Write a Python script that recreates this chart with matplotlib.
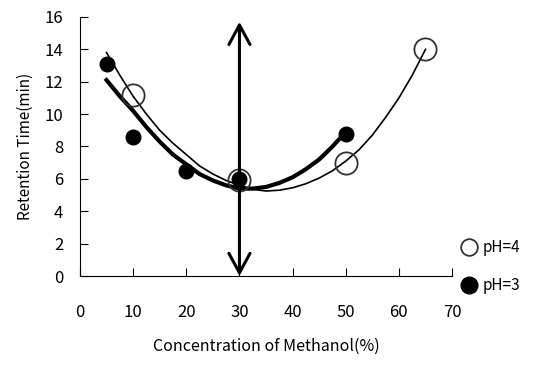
import matplotlib
matplotlib.use('Agg')
import matplotlib.pyplot as plt
from matplotlib.lines import Line2D

plt.rcParams['font.family'] = ['Noto Sans CJK JP', 'DejaVu Sans']

# measured points
x_ph4 = [10, 30, 50, 65]
y_ph4 = [11.2, 5.9, 7.0, 14.0]
x_ph3 = [5, 10, 20, 30, 50]
y_ph3 = [13.1, 8.6, 6.5, 6.0, 8.8]

# trend lines
xt_ph4 = [5, 7.5, 10, 12.5, 15, 17.5, 20, 22.5, 25, 27.5, 30, 32.5, 35,
          37.5, 40, 42.5, 45, 47.5, 50, 52.5, 55, 57.5, 60, 62.5, 65]
yt_ph4 = [13.8, 12.4, 11.1, 10.0, 9.0, 8.2, 7.5, 6.8, 6.3, 5.9, 5.6, 5.35, 5.25,
          5.3, 5.45, 5.7, 6.05, 6.5, 7.1, 7.8, 8.7, 9.8, 11.0, 12.4, 14.0]
xt_ph3 = [5, 7.5, 10, 12.5, 15, 17.5, 20, 22.5, 25, 27.5, 30, 32.5, 35,
          37.5, 40, 42.5, 45, 47.5, 50]
yt_ph3 = [12.1, 11.1, 10.2, 9.2, 8.3, 7.5, 6.9, 6.3, 5.9, 5.6, 5.4, 5.4, 5.5,
          5.75, 6.1, 6.6, 7.2, 8.0, 8.9]

fig = plt.figure(figsize=(5.35, 3.69), dpi=100)
ax = fig.add_axes([0.1495, 0.252, 0.6955, 0.702])

ax.plot(xt_ph4, yt_ph4, color='black', lw=1.2)
ax.plot(xt_ph3, yt_ph3, color='black', lw=3)
ax.plot(x_ph4, y_ph4, 'o', ms=16, mfc='none', mec='#333333', mew=1.3)
ax.plot(x_ph3, y_ph3, 'o', ms=10.5, color='black')

ax.annotate('', xy=(30, 15.7), xytext=(30, 0),
            arrowprops=dict(arrowstyle='<->,head_length=0.7,head_width=0.38',
                            lw=2.2, color='black', mutation_scale=20,
                            shrinkA=0, shrinkB=0))

ax.set_xlim(0, 70)
ax.set_ylim(0, 16)
ax.set_xticks(range(0, 71, 10))
ax.set_yticks(range(0, 17, 2))
ax.spines['top'].set_visible(False)
ax.spines['right'].set_visible(False)
ax.tick_params(axis='x', direction='in', length=6, pad=20, labelsize=12)
ax.tick_params(axis='y', direction='in', length=6, pad=12, labelsize=12)
ax.set_xlabel('Concentration of Methanol(%)', fontsize=11.5, labelpad=12)
ax.set_ylabel('Retention Time(min)', fontsize=11, labelpad=8)

handles = [Line2D([], [], marker='o', ls='none', ms=12, mfc='none', mec='#333333', mew=1.3),
           Line2D([], [], marker='o', ls='none', ms=12, color='black')]
fig.legend(handles, ['pH=4', 'pH=3'], loc='center left', bbox_to_anchor=(0.862, 0.277),
           frameon=False, fontsize=11, handlelength=1.0, handletextpad=0.4,
           labelspacing=1.4, borderpad=0, borderaxespad=0,
           bbox_transform=fig.transFigure)

fig.savefig('out.png', dpi=100)
